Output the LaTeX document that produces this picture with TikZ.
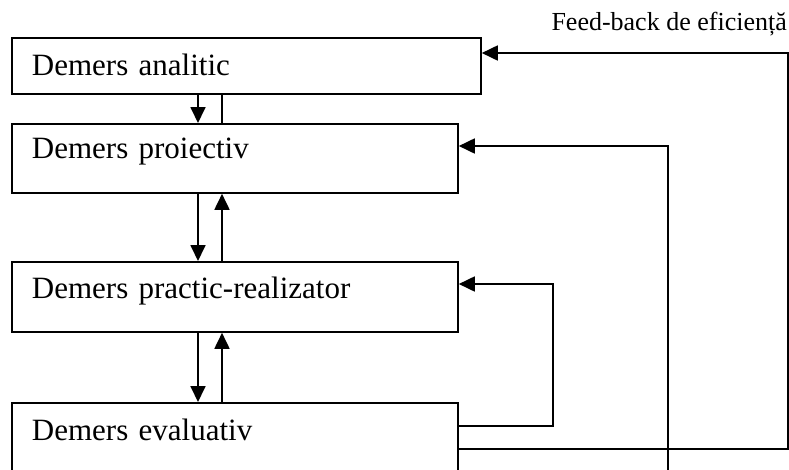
\documentclass[tikz,border=0pt]{standalone}
\usepackage{fontspec}
\setmainfont{Liberation Serif}
\usepackage{tikz}
\usetikzlibrary{arrows.meta,calc}

\tikzset{
  demers/.style={draw, line width=1.8pt, anchor=north west, align=left, inner xsep=20pt, inner ysep=0pt,
    font=\fontsize{31}{37}\selectfont, text height=38pt},
  sag/.style={-{Triangle[length=16pt,width=15pt]}, line width=1.8pt}
}

\begin{document}
\begin{tikzpicture}[x=1pt, y=-1pt]
  \clip (0,0) rectangle (789,469);
  \node[demers, text width=429pt, text depth=18pt] (analitic) at (11,37) {Demers analitic};
  \node[demers, text width=406pt, text height=35pt, text depth=34pt] (proiectiv) at (11,123) {Demers proiectiv};
  \node[demers, text width=406pt, text height=37pt, text depth=33pt] (practic) at (11,261) {Demers practic-realizator};
  \node[demers, text width=406pt, text depth=60pt] (evaluativ) at (11,402) {Demers evaluativ};
  \node[anchor=base east, font=\fontsize{26}{30}\selectfont, inner sep=0pt] (fb) at (787,30) {Feed-back de eficiență};
  \coordinate (jos) at (668,480);
  % legaturi verticale
  \draw[sag] ([xshift=187pt]analitic.south west) -- ([xshift=187pt]proiectiv.north west);
  \draw[line width=1.8pt] ([xshift=211pt]analitic.south west) -- ([xshift=211pt]proiectiv.north west);
  \draw[sag] ([xshift=187pt]proiectiv.south west) -- ([xshift=187pt]practic.north west);
  \draw[sag] ([xshift=211pt]practic.north west) -- ([xshift=211pt]proiectiv.south west);
  \draw[sag] ([xshift=187pt]practic.south west) -- ([xshift=187pt]evaluativ.north west);
  \draw[sag] ([xshift=211pt]evaluativ.north west) -- ([xshift=211pt]practic.south west);
  % feed-back
  \draw[sag] ([yshift=-24pt]evaluativ.north east) -- ++(94,0) |- ([yshift=-23pt]practic.north east);
  \draw[sag] ([yshift=-47pt]evaluativ.north east) -- ++(329,0) |- ([yshift=-16pt]analitic.north east);
  \draw[sag] (jos) |- ([yshift=-23pt]proiectiv.north east);
\end{tikzpicture}
\end{document}
